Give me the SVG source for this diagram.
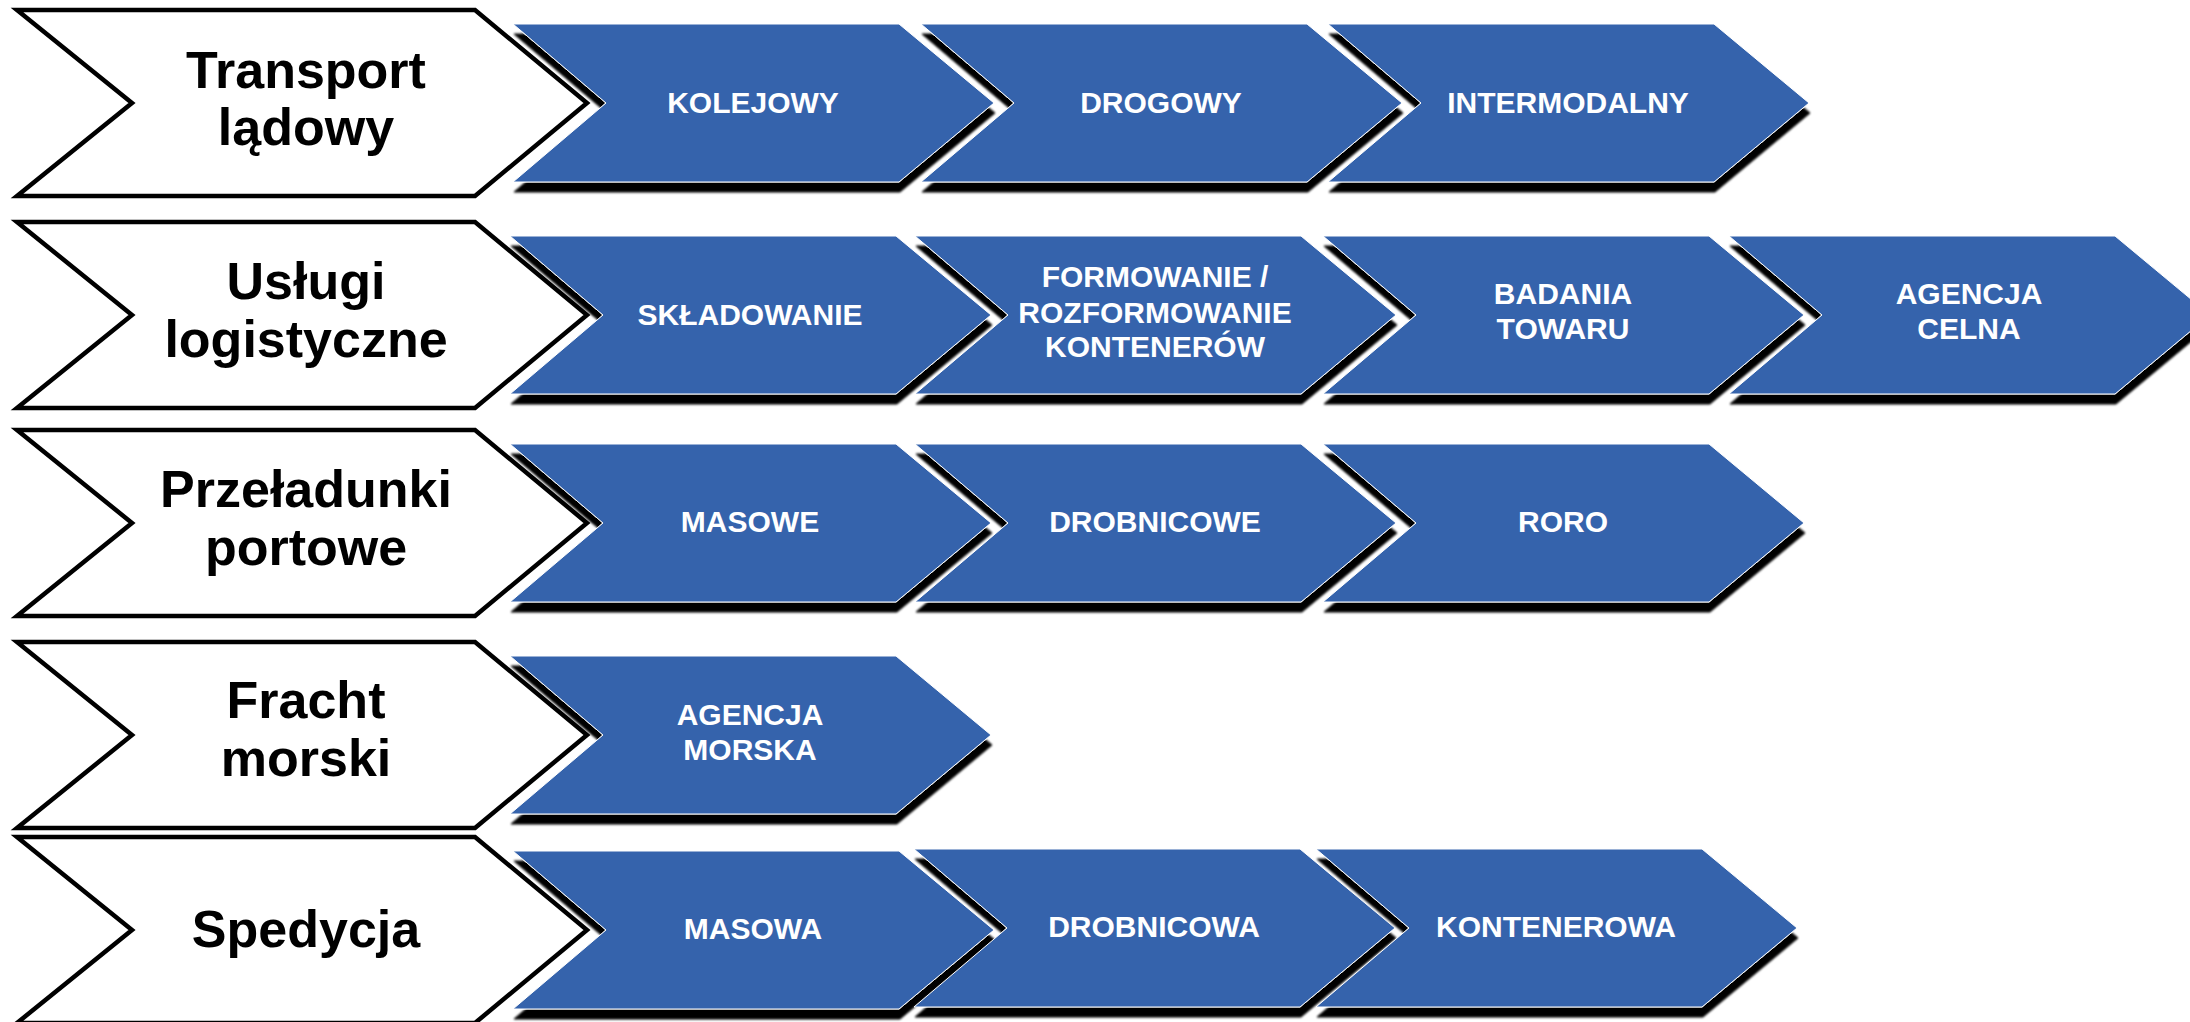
<svg xmlns="http://www.w3.org/2000/svg" xmlns:xlink="http://www.w3.org/1999/xlink" width="2190" height="1022" viewBox="0 0 2190 1022">
  <style>
    .cat { fill: #ffffff; stroke: #000000; stroke-width: 4.5; stroke-linejoin: miter; }
    .blue { fill: #3463ac; stroke: #ffffff; stroke-width: 1; }
    .catText { font-family: "Liberation Sans", Arial, sans-serif; font-weight: bold; font-size: 52px; fill: #000000; text-anchor: middle; }
    .lbl { font-family: "Liberation Sans", Arial, sans-serif; font-weight: bold; font-size: 30px; fill: #ffffff; text-anchor: middle; }
  </style>
  <defs>
    <path id="whiteChev" d="M0,0 H458 L570,93 L458,186 H0 L115,93 Z"/>
    <path id="blueChev" d="M0,0 H386 L481,79 L386,158 H0 L93,79 Z"/>
    <filter id="shadow" x="-10%" y="-10%" width="130%" height="140%">
      <feGaussianBlur in="SourceAlpha" stdDeviation="1.2" result="b"/>
      <feOffset in="b" dx="1" dy="10" result="o"/>
      <feFlood flood-color="#000000" result="f"/>
      <feComposite in="f" in2="o" operator="in" result="s"/>
      <feMerge>
        <feMergeNode in="s"/>
        <feMergeNode in="SourceGraphic"/>
      </feMerge>
    </filter>
  </defs>
  <rect x="0" y="0" width="2190" height="1022" fill="#ffffff"/>

  <g id="connectors"></g>

  <!-- Row 1 -->
  <g id="cat-transport">
    <use xlink:href="#whiteChev" class="cat" transform="translate(17,10)"/>
    <text class="catText" x="306" y="88">Transport</text>
    <text class="catText" x="306" y="145">lądowy</text>
  </g>
  <g id="kolejowy">
    <use xlink:href="#blueChev" class="blue" filter="url(#shadow)" transform="translate(513,24)"/>
    <text class="lbl" x="753" y="113">KOLEJOWY</text>
  </g>
  <g id="drogowy">
    <use xlink:href="#blueChev" class="blue" filter="url(#shadow)" transform="translate(921,24)"/>
    <text class="lbl" x="1161" y="113">DROGOWY</text>
  </g>
  <g id="intermodalny">
    <use xlink:href="#blueChev" class="blue" filter="url(#shadow)" transform="translate(1328,24)"/>
    <text class="lbl" x="1568" y="113">INTERMODALNY</text>
  </g>

  <!-- Row 2 -->
  <g id="cat-uslugi">
    <use xlink:href="#whiteChev" class="cat" transform="translate(17,222)"/>
    <text class="catText" x="306" y="299">Usługi</text>
    <text class="catText" x="306" y="357">logistyczne</text>
  </g>
  <g id="skladowanie">
    <use xlink:href="#blueChev" class="blue" filter="url(#shadow)" transform="translate(510,236)"/>
    <text class="lbl" x="750" y="325">SKŁADOWANIE</text>
  </g>
  <g id="formowanie">
    <use xlink:href="#blueChev" class="blue" filter="url(#shadow)" transform="translate(915,236)"/>
    <text class="lbl" x="1155" y="287">FORMOWANIE /</text>
    <text class="lbl" x="1155" y="323">ROZFORMOWANIE</text>
    <text class="lbl" x="1155" y="357">KONTENERÓW</text>
  </g>
  <g id="badania">
    <use xlink:href="#blueChev" class="blue" filter="url(#shadow)" transform="translate(1323,236)"/>
    <text class="lbl" x="1563" y="304">BADANIA</text>
    <text class="lbl" x="1563" y="339">TOWARU</text>
  </g>
  <g id="agencja-celna">
    <use xlink:href="#blueChev" class="blue" filter="url(#shadow)" transform="translate(1729,236)"/>
    <text class="lbl" x="1969" y="304">AGENCJA</text>
    <text class="lbl" x="1969" y="339">CELNA</text>
  </g>

  <!-- Row 3 -->
  <g id="cat-przeladunki">
    <use xlink:href="#whiteChev" class="cat" transform="translate(17,430)"/>
    <text class="catText" x="306" y="507">Przeładunki</text>
    <text class="catText" x="306" y="565">portowe</text>
  </g>
  <g id="masowe">
    <use xlink:href="#blueChev" class="blue" filter="url(#shadow)" transform="translate(510,444)"/>
    <text class="lbl" x="750" y="532">MASOWE</text>
  </g>
  <g id="drobnicowe">
    <use xlink:href="#blueChev" class="blue" filter="url(#shadow)" transform="translate(915,444)"/>
    <text class="lbl" x="1155" y="532">DROBNICOWE</text>
  </g>
  <g id="roro">
    <use xlink:href="#blueChev" class="blue" filter="url(#shadow)" transform="translate(1323,444)"/>
    <text class="lbl" x="1563" y="532">RORO</text>
  </g>

  <!-- Row 4 -->
  <g id="cat-fracht">
    <use xlink:href="#whiteChev" class="cat" transform="translate(17,642)"/>
    <text class="catText" x="306" y="718">Fracht</text>
    <text class="catText" x="306" y="776">morski</text>
  </g>
  <g id="agencja-morska">
    <use xlink:href="#blueChev" class="blue" filter="url(#shadow)" transform="translate(510,656)"/>
    <text class="lbl" x="750" y="725">AGENCJA</text>
    <text class="lbl" x="750" y="760">MORSKA</text>
  </g>

  <!-- Row 5 -->
  <g id="cat-spedycja">
    <use xlink:href="#whiteChev" class="cat" transform="translate(17,837)"/>
    <text class="catText" x="306" y="947">Spedycja</text>
  </g>
  <g id="masowa">
    <use xlink:href="#blueChev" class="blue" filter="url(#shadow)" transform="translate(513,851)"/>
    <text class="lbl" x="753" y="939">MASOWA</text>
  </g>
  <g id="drobnicowa">
    <use xlink:href="#blueChev" class="blue" filter="url(#shadow)" transform="translate(914,849)"/>
    <text class="lbl" x="1154" y="937">DROBNICOWA</text>
  </g>
  <g id="kontenerowa">
    <use xlink:href="#blueChev" class="blue" filter="url(#shadow)" transform="translate(1316,849)"/>
    <text class="lbl" x="1556" y="937">KONTENEROWA</text>
  </g>
</svg>
